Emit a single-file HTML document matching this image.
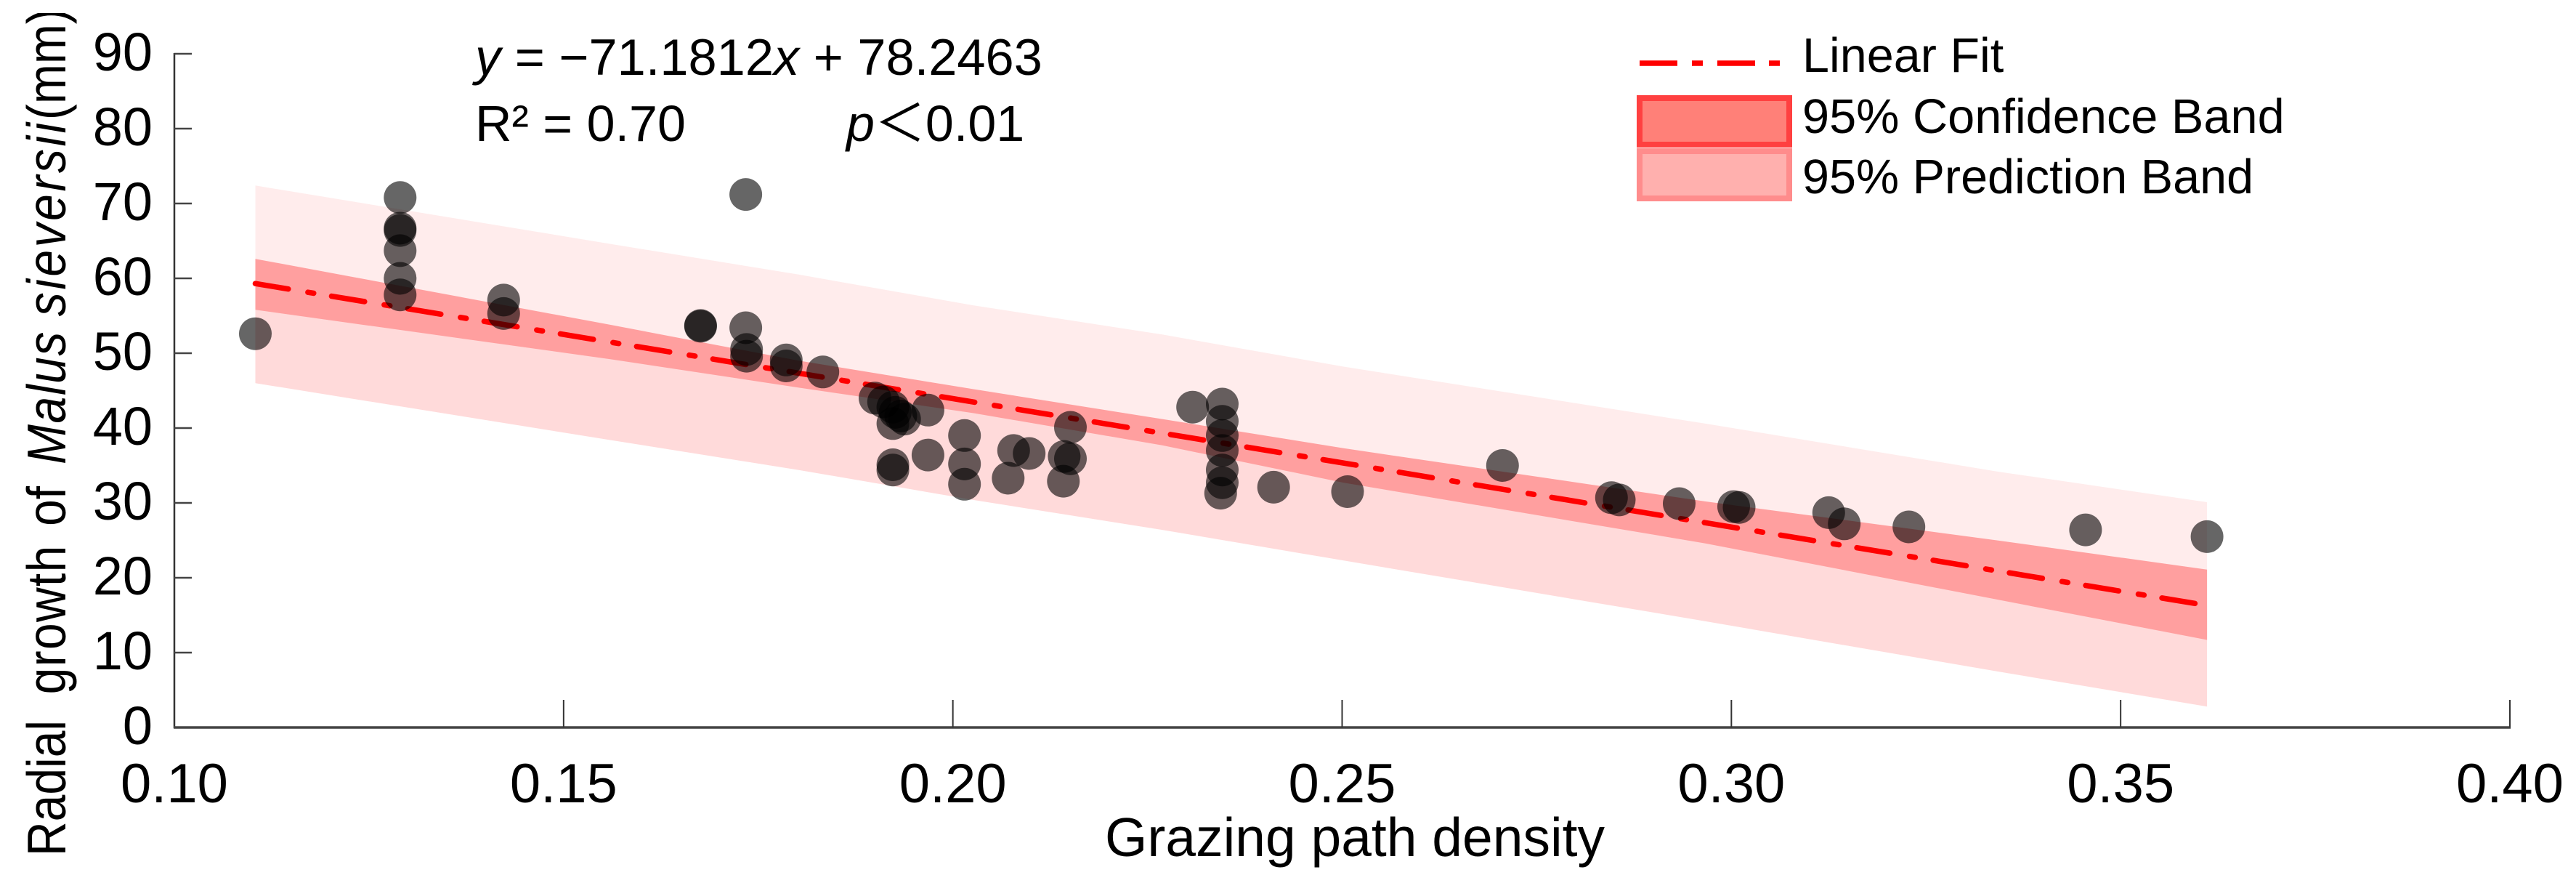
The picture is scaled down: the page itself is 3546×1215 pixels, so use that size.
<!DOCTYPE html>
<html lang="en">
<head>
<meta charset="utf-8">
<title>Radial growth of Malus sieversii vs grazing path density</title>
<style>
html,body{margin:0;padding:0;background:#fff;}
body{width:3546px;height:1215px;overflow:hidden;}
svg{display:block;}
text{font-family:"Liberation Sans","Noto Sans CJK SC",sans-serif;fill:#000;}
</style>
</head>
<body>
<svg id="chart" xmlns="http://www.w3.org/2000/svg" width="3546" height="1215" viewBox="0 0 3546 1215">
  <defs>
    <clipPath id="title-clip"><rect x="0" y="18" width="200" height="1197"/></clipPath>
  </defs>
  <rect x="0" y="0" width="3546" height="1215" fill="#fff"/>
  <g id="bands"></g>
  <g id="fit"></g>
  <g id="points"></g>
  <g id="axes"></g>

  <text x="1865" y="1178" font-size="75" text-anchor="middle">Grazing path density</text>
  <g clip-path="url(#title-clip)">
    <text transform="translate(90,1178) rotate(-90) scale(.88,1)" font-size="75"><tspan x="0">Radial </tspan><tspan x="253" letter-spacing="1.5">growth </tspan><tspan x="516">of </tspan><tspan x="612.5" font-style="italic" letter-spacing="1.8">Malus </tspan><tspan x="844" font-style="italic" letter-spacing="4">sieversii</tspan><tspan x="1151">(mm)</tspan></text>
  </g>

  <text x="654" y="103" font-size="70.4"><tspan font-style="italic">y</tspan> = −71.1812<tspan font-style="italic">x</tspan> + 78.2463</text>
  <text x="654" y="194" font-size="70">R² = 0.70</text>
  <text x="1165" y="194" font-size="70"><tspan font-style="italic">p</tspan>＜0.01</text>

  <g>
    <line x1="2257" y1="87" x2="2451" y2="87" stroke="#ff0000" stroke-width="7.5" stroke-dasharray="52 20 15 20 52 19 15 20"/>
    <text x="2481" y="99" font-size="66.5">Linear Fit</text>
    <rect x="2257" y="135" width="206" height="64" fill="#ff8078" stroke="#ff4040" stroke-width="8"/>
    <text x="2481" y="183" font-size="66.7">95% Confidence Band</text>
    <rect x="2257" y="208" width="206" height="65" fill="#ffb0ae" stroke="#ff8c8c" stroke-width="8"/>
    <text x="2481" y="266" font-size="66.5">95% Prediction Band</text>
  </g>
</svg>
<script>
// Data
const xTickValues = [0.10, 0.15, 0.20, 0.25, 0.30, 0.35, 0.40];
const xTickLabels = ["0.10", "0.15", "0.20", "0.25", "0.30", "0.35", "0.40"];
const yTickValues = [0, 10, 20, 30, 40, 50, 60, 70, 80, 90];
const yTickLabels = ["0", "10", "20", "30", "40", "50", "60", "70", "80", "90"];

const fitX = [0.1104, 0.3611];
const fitY = [59.3, 16.3];

const bandX = [0.1104, 0.156, 0.1802, 0.2026, 0.2269, 0.2502, 0.2966, 0.3341, 0.3611];
const predictionUpper = [72.4, 64.6, 60.5, 56.4, 52.5, 48.2, 40.6, 34.2, 30.1];
const confidenceUpper = [62.6, 53.8, 49.0, 45.2, 41.2, 37.3, 30.2, 25.0, 21.1];
const confidenceLower = [55.8, 49.2, 45.4, 42.0, 37.7, 32.7, 24.6, 17.1, 11.7];
const predictionLower = [46.0, 38.4, 34.4, 30.4, 26.4, 22.3, 14.2, 7.5, 2.8];

const pointX = [0.1104, 0.1290, 0.1290, 0.1290, 0.1290, 0.1290, 0.1290, 0.1423, 0.1423,
  0.1734, 0.1676, 0.1676, 0.1734, 0.1735, 0.1735, 0.1786, 0.1786, 0.1833,
  0.1900, 0.1911, 0.1923, 0.1926, 0.1933, 0.1923, 0.1938, 0.1968,
  0.1923, 0.1923, 0.1968, 0.2015, 0.2015, 0.2015, 0.2078, 0.2098, 0.2071,
  0.2151, 0.2143, 0.2151, 0.2142, 0.2308,
  0.2346, 0.2346, 0.2346, 0.2346, 0.2346, 0.2346, 0.2344,
  0.2412, 0.2507, 0.2706, 0.2846, 0.2856, 0.2933, 0.3003, 0.3010,
  0.3125, 0.3145, 0.3228, 0.3455, 0.3611];
const pointY = [52.6, 70.8, 66.7, 66.4, 63.7, 60.0, 57.8, 57.1, 55.3,
  71.2, 53.7, 53.6, 53.4, 50.5, 49.6, 49.1, 48.3, 47.5,
  44.0, 43.5, 42.8, 42.1, 41.6, 40.6, 41.2, 42.4,
  35.1, 34.4, 36.4, 39.0, 35.2, 32.5, 37.0, 36.6, 33.3,
  40.1, 36.2, 35.9, 32.9, 42.8,
  43.2, 40.9, 39.0, 37.0, 34.4, 32.7, 31.3,
  32.1, 31.5, 35.0, 30.7, 30.4, 29.9, 29.5, 29.4,
  28.7, 27.2, 26.8, 26.4, 25.5];

// Axis functions
const X0 = 240, X1 = 3455, Y0 = 1001, Y1 = 74;
const xScale = v => X0 + (v - 0.10) / 0.30 * (X1 - X0);
const yScale = v => Y0 - v / 90 * (Y0 - Y1);
const NS = "http://www.w3.org/2000/svg";

function make(parent, tag, props) {
  const el = document.createElementNS(NS, tag);
  for (const k in props) el.setAttribute(k, props[k]);
  parent.appendChild(el);
  return el;
}

function fitAt(v) {
  return fitY[0] + (v - fitX[0]) / (fitX[1] - fitX[0]) * (fitY[1] - fitY[0]);
}

function areaPoints(xs, upper, lower) {
  const top = xs.map((v, i) => xScale(v).toFixed(1) + "," + yScale(upper[i]).toFixed(1));
  const bottom = xs.map((v, i) => xScale(v).toFixed(1) + "," + yScale(lower[i]).toFixed(1)).reverse();
  return top.concat(bottom).join(" ");
}

const bandsG = document.getElementById("bands");
const fitCentre = bandX.map(fitAt);

const upperPred = make(bandsG, "polygon", {points: areaPoints(bandX, predictionUpper, fitCentre), fill: "#ffecec"});



const lowerPred = make(bandsG, "polygon", {points: areaPoints(bandX, fitCentre, predictionLower), fill: "#ffdada"});



const confBand = make(bandsG, "polygon", {points: areaPoints(bandX, confidenceUpper, confidenceLower), fill: "#ff9f9f"});



const fitLine = make(document.getElementById("fit"), "line", {
  x1: xScale(fitX[0]), y1: yScale(fitY[0]), x2: xScale(fitX[1]), y2: yScale(fitY[1]),
  stroke: "#ff0000", "stroke-width": 7.5, "stroke-linecap": "round", "stroke-dasharray": "46 27.4 8 25"
});



const pointsG = document.getElementById("points");
pointX.forEach((v, i) => {
  const c = make(pointsG, "circle", {cx: xScale(v).toFixed(1), cy: yScale(pointY[i]).toFixed(1), r: 22.5, fill: "#000", "fill-opacity": 0.6});
  
  
});

const axesG = document.getElementById("axes");

const yAxis = make(axesG, "line", {x1: X0, y1: Y1 - 1, x2: X0, y2: Y0 + 1, stroke: "#333", "stroke-width": 2.5});



const xAxis = make(axesG, "line", {x1: X0 - 1, y1: Y0, x2: X1 + 1, y2: Y0, stroke: "#444", "stroke-width": 3.5});



yTickValues.forEach((v, i) => {
  const y = yScale(v);
  if (v !== 0) {
    const t = make(axesG, "line", {x1: X0, y1: y, x2: X0 + 24, y2: y, stroke: "#444", "stroke-width": 2.5});
    
    
  }
  const lab = make(axesG, "text", {x: 210, y: y + 23, "font-size": 74, "text-anchor": "end"});
  lab.textContent = yTickLabels[i];
  
  
});

xTickValues.forEach((v, i) => {
  const x = xScale(v);
  if (i !== 0) {
    const t = make(axesG, "line", {x1: x, y1: Y0, x2: x, y2: Y0 - 38, stroke: "#333", "stroke-width": 2});
    
    
  }
  const lab = make(axesG, "text", {x: x, y: 1104, "font-size": 76, "text-anchor": "middle"});
  lab.textContent = xTickLabels[i];
  
  
});
</script>
</body>
</html>
